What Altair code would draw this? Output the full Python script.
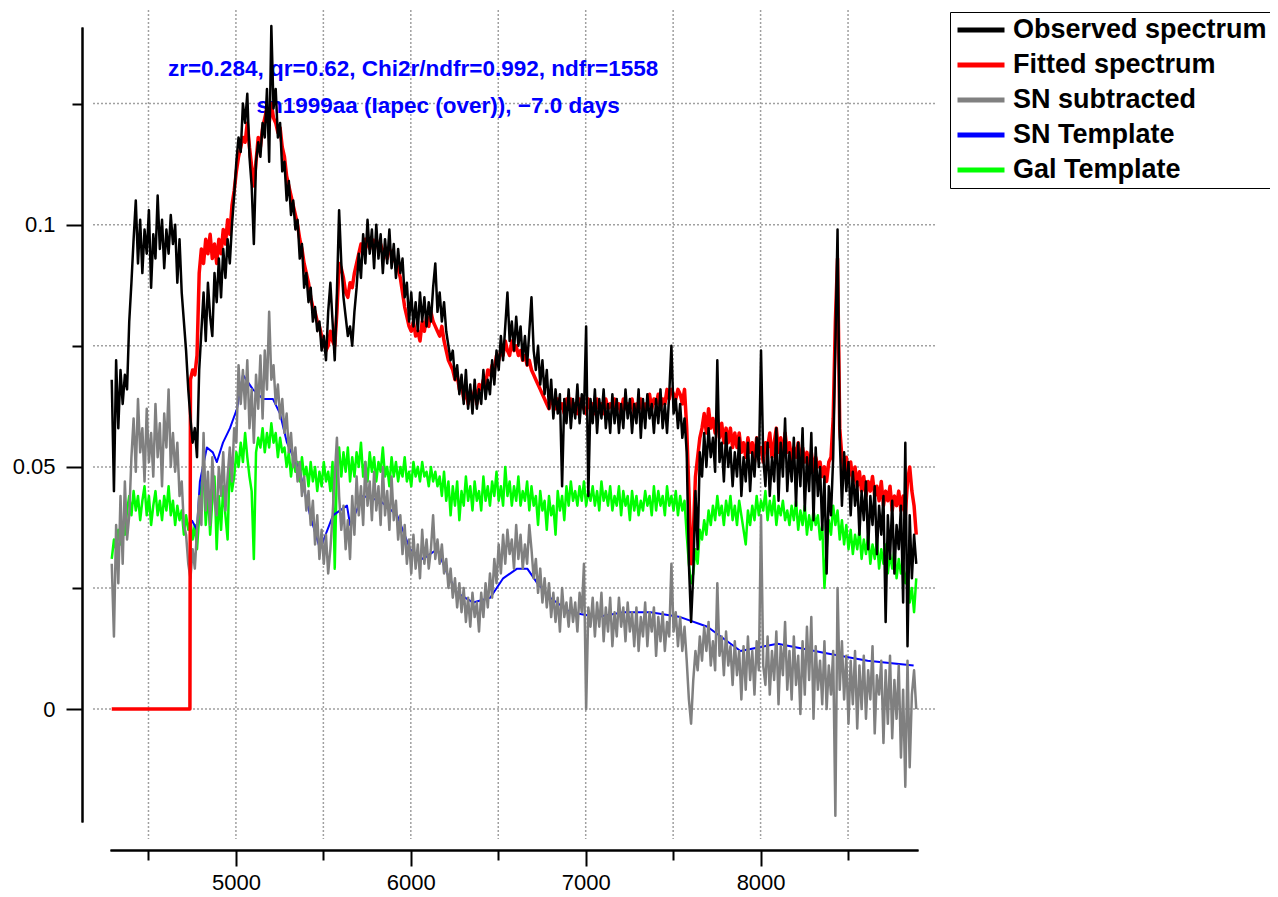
import altair as alt
import pandas as pd

# Evenly sampled wavelength grid (Angstrom)
WAVE_START = 4290
WAVE_STEP = 12.5

# Fluxes, in units of 1e-3
observed = [
    68, 45, 72, 58, 70, 63, 69, 66, 80, 88,
    97, 105, 92, 101, 90, 99, 94, 103, 87, 98,
    93, 106, 95, 101, 91, 99, 94, 102, 96, 100,
    88, 97, 86, 80, 74, 66, 60, 55, 58, 52,
    70, 78, 86, 76, 88, 81, 77, 90, 84, 93,
    85, 95, 89, 97, 92, 100, 106, 113, 118, 115,
    125, 121, 127, 114, 108, 96, 113, 117, 114, 121,
    118, 128, 113, 141, 124, 128, 118, 121, 111, 113,
    105, 109, 102, 105, 99, 101, 93, 96, 87, 90,
    84, 87, 80, 83, 78, 80, 74, 77, 72, 82,
    88, 80, 72, 86, 103, 92, 85, 81, 77, 79,
    75, 82, 87, 94, 89, 98, 92, 101, 94, 99,
    91, 100, 93, 98, 90, 97, 92, 99, 91, 96,
    89, 95, 90, 93, 85, 88, 80, 86, 79, 84,
    78, 86, 80, 85, 79, 84, 80, 87, 92, 82,
    86, 80, 84, 78, 75, 72, 74, 68, 71, 65,
    69, 63, 70, 62, 67, 61, 68, 62, 66, 63,
    70, 64, 68, 65, 72, 67, 74, 70, 77, 72,
    79, 86, 76, 80, 74, 81, 75, 79, 72, 77,
    71, 78, 85, 74, 70, 75, 67, 72, 65, 70,
    62, 68, 60, 66, 61, 65, 46, 64, 59, 66,
    58, 64, 60, 67, 59, 65, 61, 79, 44, 64,
    59, 66, 57, 64, 60, 66, 58, 63, 57, 65,
    59, 64, 57, 63, 58, 66, 60, 64, 57, 63,
    59, 66, 56, 64, 58, 65, 60, 63, 57, 64,
    59, 66, 58, 63, 57, 65, 75, 61, 64, 58,
    63, 56, 60, 53, 30, 18, 28, 45, 33, 53,
    48, 57, 50, 58, 52, 56, 49, 72, 51, 55,
    47, 57, 50, 54, 46, 53, 48, 56, 44, 52,
    47, 55, 45, 53, 48, 56, 50, 74, 52, 46,
    55, 44, 52, 47, 58, 43, 55, 48, 60, 45,
    53, 47, 56, 42, 55, 46, 58, 41, 52, 45,
    57, 39, 54, 44, 50, 37, 48, 28, 46, 40,
    52, 75, 99, 56, 42, 53, 45, 51, 40, 49,
    42, 47, 36, 45, 39, 47, 33, 44, 38, 46,
    32, 42, 36, 44, 18, 40, 31, 43, 28, 38,
    33, 42, 22, 55, 13, 40, 27, 36, 30,
]

# Fitted spectrum: zero up to the template start, then on the same grid from 4740 A
fit_zero_wave = [4290, 4737]
fit_start_index = 36
fitted = [
    68, 70, 69, 73,
    90, 95, 92, 97, 94, 98, 93, 96, 92, 97,
    94, 99, 96, 101, 98, 104, 107, 111, 114, 116,
    118, 117, 121, 116, 112, 108, 113, 118, 116, 120,
    122, 124, 121, 125, 122, 121, 119, 120, 116, 114,
    110, 108, 106, 104, 102, 100, 97, 95, 92, 90,
    88, 85, 83, 82, 80, 79, 77, 76, 74, 75,
    78, 76, 75, 82, 92, 91, 89, 86, 85, 88,
    87, 90, 92, 94, 96, 95, 97, 96, 95, 97,
    96, 97, 95, 96, 94, 95, 93, 95, 94, 93,
    92, 91, 89, 86, 83, 81, 79, 78, 80, 77,
    78, 76, 80, 78, 81, 79, 82, 80, 79, 78,
    77, 79, 76, 74, 72, 71, 70, 68, 69, 66,
    67, 64, 66, 63, 65, 64, 66, 63, 67, 66,
    68, 67, 70, 69, 71, 70, 73, 72, 74, 73,
    76, 74, 73, 76, 74, 75, 73, 74, 72, 73,
    71, 72, 70, 69, 68, 67, 66, 65, 64, 63,
    62, 64, 63, 62, 64, 62, 63, 61, 64, 62,
    64, 62, 63, 61, 64, 63, 62, 61, 64, 62,
    63, 61, 64, 62, 63, 61, 64, 62, 63, 62,
    64, 62, 63, 61, 64, 62, 63, 62, 64, 61,
    63, 62, 64, 61, 63, 62, 65, 62, 64, 63,
    65, 62, 64, 63, 66, 64, 66, 65, 64, 66,
    65, 63, 66, 58, 45, 30, 36, 48, 52, 56,
    58, 61, 57, 62, 58, 60, 57, 60, 56, 59,
    55, 58, 55, 58, 54, 57, 54, 57, 53, 55,
    52, 56, 53, 55, 51, 56, 53, 54, 51, 55,
    54, 57, 52, 55, 58, 53, 56, 52, 57, 53,
    55, 51, 54, 52, 55, 50, 54, 51, 53, 50,
    53, 49, 52, 50, 51, 48, 50, 47, 51, 52,
    60, 80, 93, 58, 52, 49, 52, 48, 51, 47,
    50, 46, 49, 45, 48, 44, 47, 45, 48, 44,
    46, 43, 47, 42, 45, 43, 46, 41, 44, 42,
    45, 41, 44, 40, 47, 50, 45, 42, 36,
]

sn_subtracted = [
    30, 15, 38, 26, 44, 30, 47, 35, 40, 52,
    60, 49, 64, 53, 58, 47, 62, 51, 57, 48,
    63, 52, 59, 46, 61, 54, 66, 50, 57, 49,
    55, 44, 47, 38, 36, 30, 27, 33, 29, 37,
    44, 38, 57, 41, 49, 38, 52, 43, 40, 50,
    44, 53, 41, 48, 54, 47, 58, 55, 71, 63,
    70, 62, 72, 58, 66, 55, 69, 62, 73, 60,
    74, 66, 82, 68, 71, 63, 67, 60, 64, 57,
    61, 53, 57, 50, 54, 47, 51, 44, 48, 41,
    45, 38, 43, 34, 40, 31, 37, 30, 36, 28,
    33, 40, 48, 56, 44, 37, 42, 33, 39, 31,
    44, 36, 48, 40, 46, 38, 51, 42, 47, 39,
    49, 41, 46, 38, 50, 40, 45, 37, 48, 39,
    43, 35, 40, 32, 38, 30, 35, 28, 36, 29,
    34, 27, 37, 30, 35, 29, 33, 40, 31, 35,
    30, 34, 28, 31, 25, 29, 23, 27, 21, 26,
    20, 25, 18, 23, 17, 24, 19, 22, 16, 24,
    19, 26, 21, 28, 23, 31, 26, 34, 28, 36,
    30, 37, 32, 35, 29, 38, 31, 36, 29, 34,
    30, 38, 33, 27, 31, 24, 29, 22, 27, 21,
    26, 19, 24, 18, 23, 16, 25, 19, 22, 17,
    23, 18, 22, 16, 24, 20, 30, 0, 21, 17,
    23, 15, 22, 17, 24, 14, 21, 16, 23, 13,
    20, 15, 23, 17, 21, 14, 22, 16, 20, 13,
    21, 12, 19, 15, 22, 13, 20, 16, 21, 11,
    19, 14, 20, 12, 18, 15, 30, 16, 20, 13,
    19, 12, 17, 10, 2, -3, 6, 12, 8, 15,
    10, 17, 12, 18, 9, 14, 8, 26, 11, 15,
    7, 16, 9, 13, 5, 14, 7, 12, 2, 13,
    4, 15, 6, 12, 3, 14, 8, 40, 9, 5,
    15, 3, 12, 6, 16, 1, 13, 7, 18, 4,
    12, 2, 15, 5, 11, -1, 14, 3, 17, 6,
    19, -2, 13, 4, 10, 1, 14, 0, 9, 3,
    12, -22, 25, 4, 14, 2, 11, -3, 10, 1,
    12, -4, 9, 0, 11, -2, 8, 2, 13, -5,
    7, 3, 10, -7, 8, -3, 11, -6, 6, -2,
    9, -10, 4, -16, 10, -12, 3, 8, 0,
]

gal_template = [
    31, 35, 33, 37, 34, 38, 36, 41, 44, 40,
    45, 41, 44, 39, 43, 46, 40, 44, 38, 42,
    45, 40, 43, 39, 44, 41, 46, 40, 43, 38,
    42, 39, 41, 36, 40, 37, 39, 35, 38, 33,
    40, 46, 49, 38, 45, 36, 43, 48, 33, 44,
    37, 46, 40, 35, 52, 45, 48, 53, 50, 55,
    51, 57, 52, 48, 45, 31, 53, 56, 54, 58,
    53, 57, 54, 59, 55, 57, 52, 56, 53, 54,
    50, 53, 48, 52, 49, 51, 47, 52, 48, 50,
    46, 51, 47, 50, 45, 49, 46, 51, 47, 49,
    45, 51, 29, 50, 54, 48, 53, 49, 54, 47,
    52, 48, 53, 50, 55, 48, 51, 47, 53, 49,
    52, 47, 51, 49, 54, 48, 50, 46, 52, 48,
    51, 47, 50, 48, 52, 47, 49, 46, 51, 48,
    50, 47, 51, 48, 49, 46, 50, 47, 49, 46,
    48, 44, 49, 43, 47, 40, 46, 42, 47, 39,
    45, 42, 48, 43, 46, 41, 47, 43, 45, 41,
    48, 43, 46, 42, 47, 44, 49, 43, 46, 42,
    50, 44, 47, 42, 46, 43, 48, 42, 45, 43,
    47, 41, 46, 42, 44, 38, 45, 41, 43, 37,
    44, 40, 42, 36, 45, 41, 44, 39, 46, 42,
    47, 43, 45, 42, 46, 43, 47, 42, 45, 43,
    46, 42, 45, 41, 47, 43, 45, 42, 46, 41,
    44, 42, 46, 40, 45, 42, 44, 39, 45, 41,
    44, 40, 43, 41, 45, 42, 44, 40, 46, 41,
    45, 42, 44, 40, 46, 42, 44, 41, 45, 40,
    44, 41, 43, 36, 30, 26, 28, 33, 30, 37,
    35, 39, 36, 41, 38, 42, 39, 44, 40, 42,
    38, 43, 40, 44, 39, 42, 38, 43, 40, 37,
    34, 41, 38, 42, 39, 44, 40, 43, 41, 45,
    39, 43, 40, 44, 38, 42, 40, 43, 39, 41,
    38, 42, 39, 43, 37, 41, 38, 42, 36, 40,
    37, 41, 38, 40, 35, 38, 25, 33, 39, 36,
    42, 38, 41, 35, 39, 34, 38, 33, 37, 32,
    36, 33, 37, 31, 35, 32, 36, 30, 34, 31,
    35, 29, 33, 30, 34, 28, 32, 29, 33, 27,
    31, 28, 30, 26, 29, 22, 25, 20, 27,
]

sn_template_wave = [
    4748, 4777, 4794, 4834, 4868, 4891, 4926, 4966, 5006, 5040,
    5097, 5155, 5212, 5252, 5292, 5366, 5424, 5481, 5555, 5635,
    5653, 5727, 5824, 5922, 5996, 6070, 6151, 6208, 6265, 6357,
    6454, 6528, 6608, 6666, 6723, 6797, 6912, 7066, 7215, 7370,
    7541, 7696, 7885, 8097, 8383, 8612, 8875,
]
sn_template = [
    39, 37, 47, 54, 53, 51, 55, 58, 62, 69,
    66, 64, 64, 61, 55, 49, 40, 33, 40, 42,
    38, 44, 43, 40, 33, 31, 33, 28, 24, 22,
    23, 27, 29, 29, 26, 23, 20, 19, 20, 20,
    19, 17, 12, 13.5, 11.5, 10, 9,
]

x_major = [5000, 6000, 7000, 8000]
x_minor = [4500, 5500, 6500, 7500, 8500]
y_major = [0, 0.05, 0.1]
y_minor = [0.025, 0.075, 0.125]

series_names = ["Observed spectrum", "Fitted spectrum", "SN subtracted",
                "SN Template", "Gal Template"]
series_colors = ["#000000", "#ff0000", "#808080", "#0000ff", "#00ff00"]

annot_text = ["zr=0.284, qr=0.62, Chi2r/ndfr=0.992, ndfr=1558",
              "sn1999aa (Iapec (over)), \u22127.0 days"]
annot_wave = [6013, 6156]
annot_flux = [0.1322, 0.1244]

# ---------------------------------------------------------------
W, H = 808, 795
FONT = "Liberation Sans"


def grid_of(n, start_index=0):
    return [WAVE_START + WAVE_STEP * (start_index + i) for i in range(n)]


def frame(wl, vals, name):
    return pd.DataFrame({"wave": wl, "flux": [v / 1000 for v in vals], "series": name})


df_obs = frame(grid_of(len(observed)), observed, series_names[0])
df_fit = pd.concat([
    frame(fit_zero_wave, [0] * len(fit_zero_wave), series_names[1]),
    frame(grid_of(len(fitted), fit_start_index), fitted, series_names[1]),
])
df_sub = frame(grid_of(len(sn_subtracted)), sn_subtracted, series_names[2])
df_snt = frame(sn_template_wave, sn_template, series_names[3])
df_gal = frame(grid_of(len(gal_template)), gal_template, series_names[4])

xs = alt.Scale(domain=[4280, 8900], nice=False, zero=False)
ys = alt.Scale(domain=[-0.0233, 0.1408], nice=False, zero=False)
cs = alt.Scale(domain=series_names, range=series_colors)

legend = alt.Legend(
    title=None, orient="none", legendX=840, legendY=-15, direction="vertical",
    symbolType="stroke", symbolSize=2209, symbolStrokeWidth=5,
    labelFont=FONT, labelFontSize=27, labelFontWeight="bold", labelColor="black",
    clipHeight=26, rowPadding=8, padding=5, labelOffset=6, symbolOffset=0,
    strokeColor="black", fillColor="white", labelLimit=400,
)

axis_common = dict(offset=28, tickWidth=2, tickColor="black", domainColor="black",
                   domainWidth=2, grid=False, title=None)

x_major_axis = alt.Axis(orient="bottom", values=x_major, tickSize=16, labelFont=FONT,
                        labelFontSize=22, labelColor="black", labelPadding=6,
                        labelFlush=False, labelOverlap=False, format="d", **axis_common)
x_minor_axis = alt.Axis(orient="bottom", values=x_minor, tickSize=10, labels=False,
                        **axis_common)
y_major_axis = alt.Axis(orient="left", values=y_major, tickSize=16, labelFont=FONT,
                        labelFontSize=22, labelColor="black", labelPadding=11,
                        labelFlush=False, labelOverlap=False, format="~g", **axis_common)
y_minor_axis = alt.Axis(orient="left", values=y_minor, tickSize=10, labels=False,
                        **axis_common)

grid_style = dict(color="#a0a0a0", strokeWidth=1.5, strokeDash=[2, 2])

vgrid = alt.Chart(pd.DataFrame({"gx": sorted(x_major + x_minor)})).mark_rule(**grid_style).encode(
    x=alt.X("gx:Q", scale=xs, axis=x_minor_axis),
    y=alt.value(-17), y2=alt.value(H + 17),
)
hgrid = alt.Chart(pd.DataFrame({"gy": sorted(y_major + y_minor)})).mark_rule(**grid_style).encode(
    y=alt.Y("gy:Q", scale=ys, axis=y_minor_axis),
    x=alt.value(-17), x2=alt.value(W + 17),
)

annot = alt.Chart(pd.DataFrame({"wave": annot_wave, "flux": annot_flux, "label": annot_text})).mark_text(
    font=FONT, fontSize=22.5, fontWeight="bold", color="#0000ff", align="center", baseline="middle"
).encode(
    x=alt.X("wave:Q", scale=xs, axis=None),
    y=alt.Y("flux:Q", scale=ys, axis=None),
    text="label:N",
)


def line(df, width, xaxis=None, yaxis=None):
    return alt.Chart(df).mark_line(strokeWidth=width, strokeJoin="round").encode(
        x=alt.X("wave:Q", scale=xs, axis=xaxis),
        y=alt.Y("flux:Q", scale=ys, axis=yaxis),
        color=alt.Color("series:N", scale=cs, legend=legend),
    )


chart = alt.layer(
    vgrid, hgrid, annot,
    line(df_gal, 2.5),
    line(df_snt, 2),
    line(df_sub, 2.5),
    line(df_fit, 3.5),
    line(df_obs, 2.5, x_major_axis, y_major_axis),
).resolve_axis(x="independent", y="independent").properties(
    width=W, height=H,
    autosize=alt.AutoSizeParams(type="none"),
    padding={"left": 102, "top": 19, "right": 352, "bottom": 75},
    background="white",
).configure_view(stroke=None)

chart.save("out.html", embed_options={"renderer": "svg", "actions": False})
